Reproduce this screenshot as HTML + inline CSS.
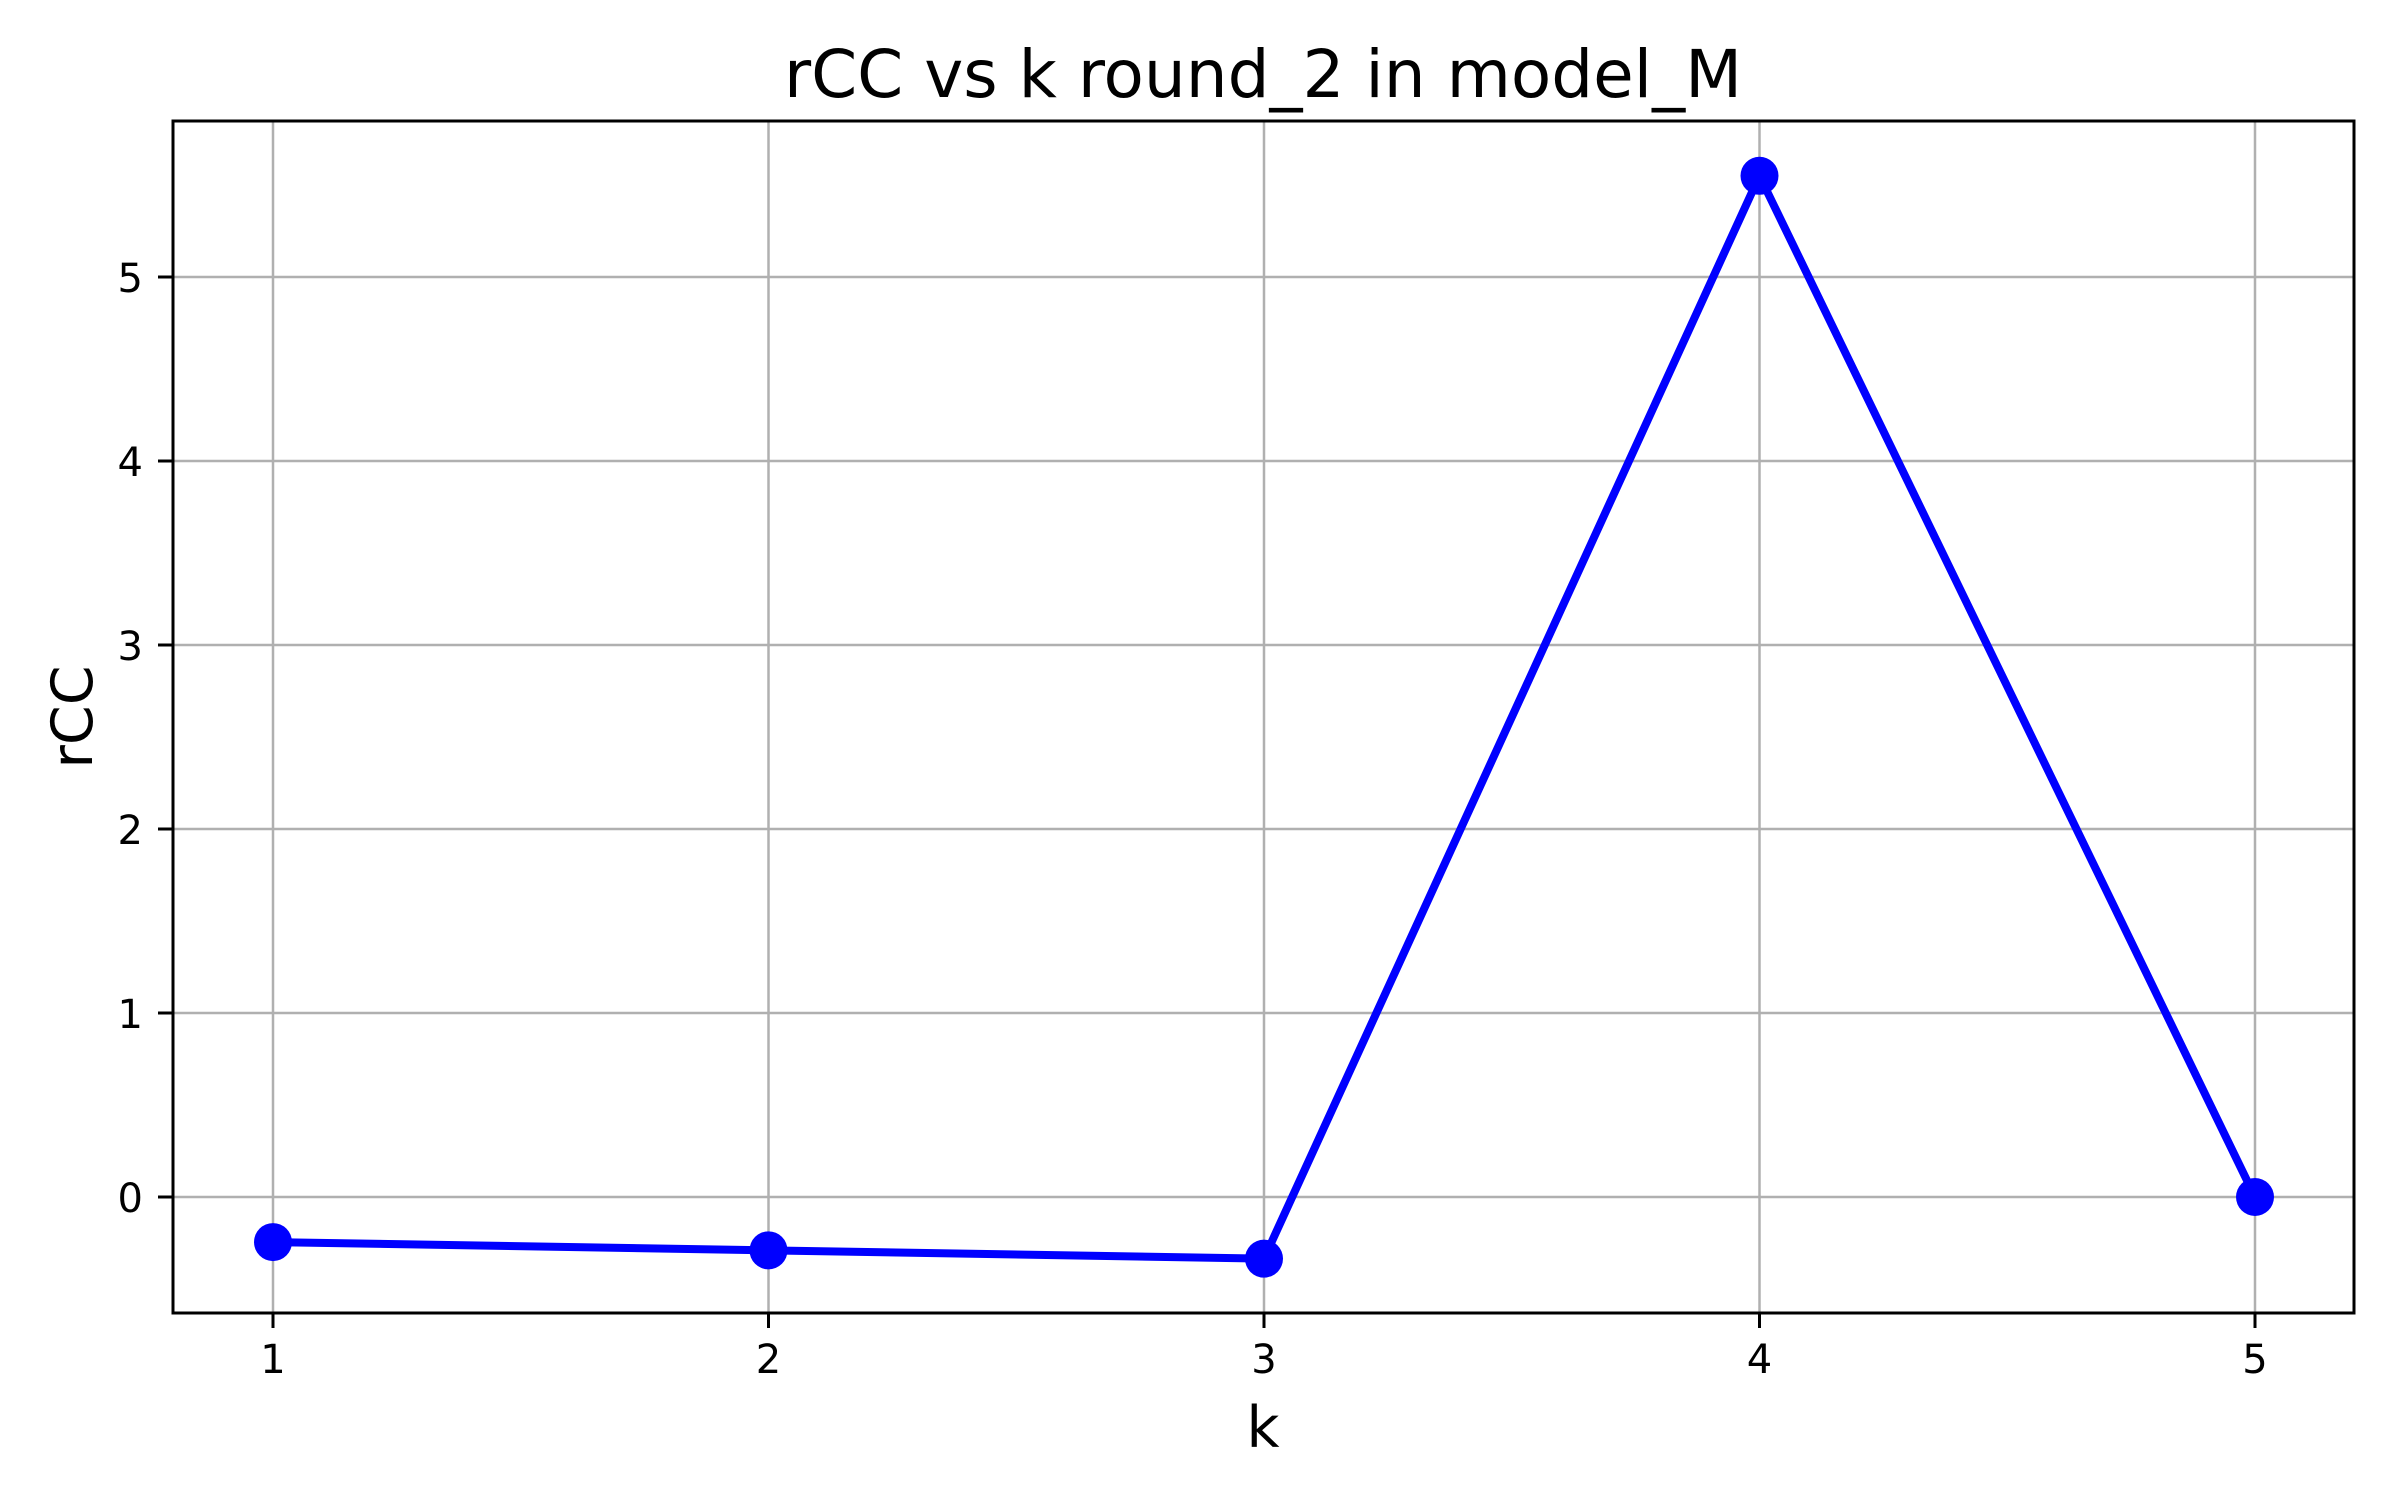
<!DOCTYPE html>
<html><head><meta charset="utf-8"><style>
html,body{margin:0;padding:0;background:#fff;}
svg text{font-family:"DejaVu Sans","Liberation Sans",sans-serif;fill:#000;}
</style></head><body>
<svg id="chart" width="2400" height="1500" viewBox="0 0 2400 1500" xmlns="http://www.w3.org/2000/svg">
<rect width="2400" height="1500" fill="#fff"/>
<g id="grid"></g>
<g id="series"></g>
<rect x="173" y="121" width="2181" height="1192" fill="none" stroke="#000" stroke-width="3"/>
<g id="ticks"></g>
<text x="1263" y="97" font-size="66" text-anchor="middle">rCC vs k round_2 in model_M</text>
<text x="1263" y="1447" font-size="57" text-anchor="middle">k</text>
<text x="0" y="0" font-size="57" text-anchor="middle" transform="translate(92,717) rotate(-90)">rCC</text>
</svg>
<script>
const categories = [1, 2, 3, 4, 5];
const values = [-0.245, -0.29, -0.335, 5.55, 0.0];
const xTicks = [1, 2, 3, 4, 5];
const yTicks = [0, 1, 2, 3, 4, 5];

const NS = "http://www.w3.org/2000/svg";
function xs(v){ return 273 + (v - 1) * (2255 - 273) / 4; }
function ys(v){ return 1197 - v * 184; }
function mk(tag, attrs, parent){
  const e = document.createElementNS(NS, tag);
  for (const k in attrs) e.setAttribute(k, attrs[k]);
  parent.appendChild(e);
  return e;
}
const grid = document.getElementById('grid');
const ticks = document.getElementById('ticks');
const series = document.getElementById('series');

xTicks.forEach(t => {
  const x = xs(t);
  const g = mk('line', {x1:x, x2:x, y1:121, y2:1313, stroke:'#b0b0b0', 'stroke-width':2.5}, grid);
  
  
  const tk = mk('line', {x1:x, x2:x, y1:1313, y2:1328, stroke:'#000', 'stroke-width':3}, ticks);
  
  
  const lb = mk('text', {x:x, y:1373, 'font-size':40, 'text-anchor':'middle'}, ticks);
  lb.textContent = t;
  
  
});
yTicks.forEach(t => {
  const y = ys(t);
  const g = mk('line', {x1:173, x2:2354, y1:y, y2:y, stroke:'#b0b0b0', 'stroke-width':2.5}, grid);
  
  
  const tk = mk('line', {x1:158, x2:173, y1:y, y2:y, stroke:'#000', 'stroke-width':3}, ticks);
  
  
  const lb = mk('text', {x:143, y:y + 15, 'font-size':40, 'text-anchor':'end'}, ticks);
  lb.textContent = t;
  
  
});

const pts = categories.map((c, i) => xs(c) + ',' + ys(values[i])).join(' ');
const line = mk('polyline', {points:pts, fill:'none', stroke:'#0000ff', 'stroke-width':8, 'stroke-linejoin':'round'}, series);


categories.forEach((c, i) => {
  const p = mk('circle', {cx:xs(c), cy:ys(values[i]), r:19, fill:'#0000ff'}, series);
  
  
});
</script>
</body></html>
